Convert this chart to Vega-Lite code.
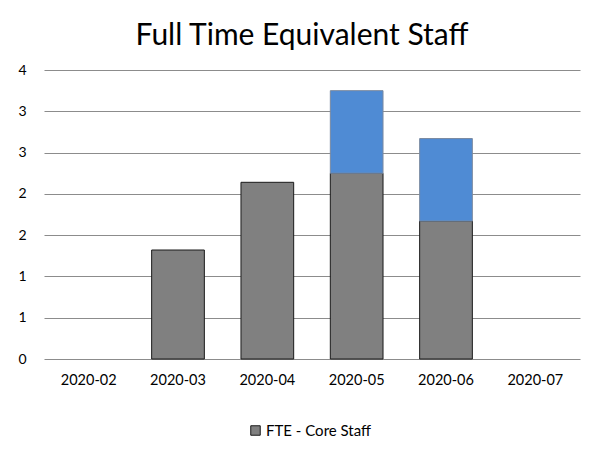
{
  "$schema": "https://vega.github.io/schema/vega-lite/v6.json",
  "autosize": "none",
  "width": 536,
  "height": 289,
  "padding": {"left": 44, "top": 70, "right": 9, "bottom": 97},
  "background": "white",
  "config": {
    "font": "Lato",
    "view": {"stroke": null}
  },
  "title": {
    "text": "Full Time Equivalent Staff",
    "fontSize": 30,
    "font": "Lato",
    "fontWeight": "normal",
    "color": "#000000",
    "anchor": "middle",
    "offset": 12,
    "dx": -10
  },
  "data": {
    "values": [
      {"month": "2020-03", "series": "FTE - Core Staff", "value": 1.32},
      {"month": "2020-04", "series": "FTE - Core Staff", "value": 2.14},
      {"month": "2020-05", "series": "FTE - Core Staff", "value": 2.25},
      {"month": "2020-05", "series": "FTE - Other Staff", "value": 1.0},
      {"month": "2020-06", "series": "FTE - Core Staff", "value": 1.67},
      {"month": "2020-06", "series": "FTE - Other Staff", "value": 1.0}
    ]
  },
  "mark": {"type": "bar", "strokeWidth": 1},
  "encoding": {
    "x": {
      "field": "month",
      "type": "nominal",
      "scale": {"domain": ["2020-02", "2020-03", "2020-04", "2020-05", "2020-06", "2020-07"], "paddingInner": 0.41, "paddingOuter": 0.205},
      "axis": {
        "title": null,
        "labelAngle": 0,
        "labelFontSize": 14.5,
        "labelColor": "#000000",
        "labelPadding": 14,
        "ticks": false,
        "domain": false
      }
    },
    "y": {
      "field": "value",
      "type": "quantitative",
      "aggregate": "sum",
      "stack": "zero",
      "scale": {"domain": [0, 3.5], "nice": false},
      "axis": {
        "title": null,
        "values": [0, 0.5, 1, 1.5, 2, 2.5, 3, 3.5],
        "labelExpr": "format(round(datum.value), 'd')",
        "labelFontSize": 14,
        "labelColor": "#000000",
        "labelPadding": 18,
        "labelAlign": "right",
        "ticks": false,
        "domain": false,
        "grid": true,
        "gridColor": "#8c8c8c",
        "gridWidth": 1.2
      }
    },
    "color": {
      "field": "series",
      "type": "nominal",
      "scale": {"domain": ["FTE - Core Staff", "FTE - Other Staff"], "range": ["#808080", "#4f8bd4"]},
      "legend": {
        "orient": "none",
        "legendX": 204,
        "legendY": 353,
        "direction": "horizontal",
        "title": null,
        "values": ["FTE - Core Staff"],
        "symbolType": "square",
        "symbolSize": 90,
        "symbolStrokeColor": "#000000",
        "symbolStrokeWidth": 1,
        "labelFontSize": 15,
        "labelColor": "#000000",
        "labelOffset": 3
      }
    },
    "stroke": {
      "field": "series",
      "type": "nominal",
      "scale": {"domain": ["FTE - Core Staff", "FTE - Other Staff"], "range": ["#1a1a1a", "#7a8aa0"]},
      "legend": null
    },
    "order": {"field": "series", "sort": "ascending"}
  }
}
